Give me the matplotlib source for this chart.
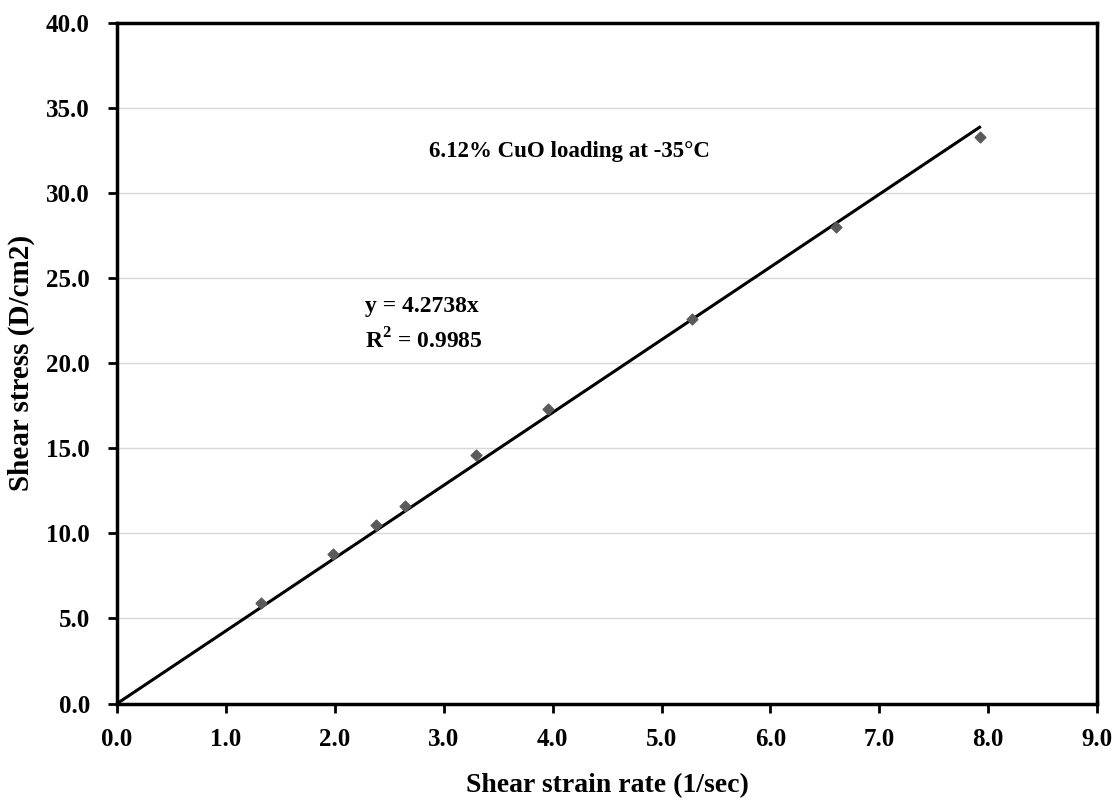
import numpy as np
import matplotlib.pyplot as plt

# shear strain rate (1/sec) and measured shear stress (D/cm2)
strain_rate = [1.32, 1.98, 2.38, 2.64, 3.30, 3.96, 5.28, 6.60, 7.92]
shear_stress = [5.9, 8.8, 10.5, 11.6, 14.6, 17.3, 22.6, 28.0, 33.3]

slope = 4.2738
r_squared = 0.9985

x_ticks = np.arange(0, 9.5, 1.0)
y_ticks = np.arange(0, 40.5, 5.0)

plt.rcParams['font.family'] = ['Liberation Serif', 'DejaVu Serif']
plt.rcParams['font.weight'] = 'bold'
plt.rcParams['mathtext.fontset'] = 'custom'
plt.rcParams['mathtext.rm'] = 'Liberation Serif:bold'
plt.rcParams['mathtext.bf'] = 'Liberation Serif:bold'

fig = plt.figure(figsize=(11.15, 8.05), dpi=100)
ax = fig.add_axes([0.105, 0.126, 0.879, 0.846])

# trendline through origin
fit_x = np.array([0, max(strain_rate)])
ax.plot(fit_x, slope * fit_x, color='black', linewidth=2.2, zorder=2)
ax.scatter(strain_rate, shear_stress, marker='D', s=30, color='#5a5a5a', zorder=3)

ax.set_xlim(0, 9)
ax.set_ylim(0, 40)
ax.set_xticks(x_ticks)
ax.set_yticks(y_ticks)
ax.set_xticklabels([f'{v:.1f}' for v in x_ticks])
ax.set_yticklabels([f'{v:.1f}' for v in y_ticks])
ax.tick_params(axis='both', direction='out', length=6.5, width=2, labelsize=18)
ax.tick_params(axis='x', pad=11)
ax.tick_params(axis='y', pad=13)
for lbl in ax.get_xticklabels() + ax.get_yticklabels():
    lbl.set_fontweight('bold')

ax.yaxis.grid(True, color='#d8d8d8', linewidth=1)
ax.set_axisbelow(True)
for sp in ax.spines.values():
    sp.set_linewidth(2.5)

ax.set_xlabel('Shear strain rate (1/sec)', fontsize=20, fontweight='bold', labelpad=16)
ax.set_ylabel('Shear stress (D/cm2)', fontsize=21, fontweight='bold', labelpad=8)

ax.text(2.86, 32.4, '6.12% CuO loading at -35°C', fontsize=16.5, fontweight='bold',
        va='center', ha='left')
ax.text(2.28, 23.3, f'y = {slope}x', fontsize=17, fontweight='bold', va='center')
ax.text(2.28, 21.3, f'R$^{{2}}$ = {r_squared}', fontsize=17, fontweight='bold', va='center')

fig.savefig('out.png', dpi=100)
